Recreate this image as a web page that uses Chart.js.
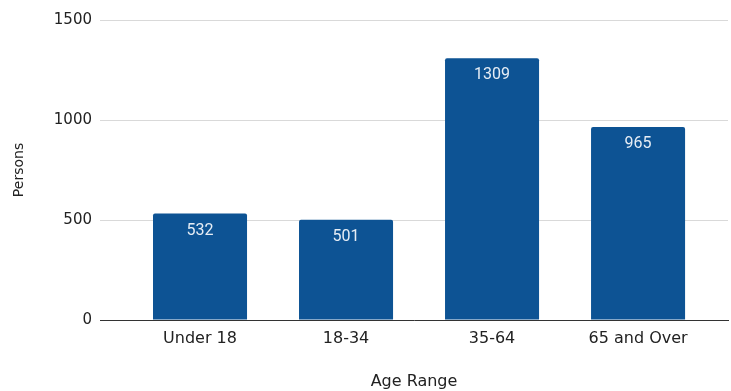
<!DOCTYPE html>
<html>
<head>
<meta charset="utf-8">
<script src="https://cdn.jsdelivr.net/npm/chart.js@4"></script>
<style>
  html, body { margin: 0; padding: 0; background: #fff; }
  #wrap { width: 731px; height: 391px; position: relative; }
</style>
</head>
<body>
<div id="wrap"><canvas id="ageChart"></canvas></div>
<script>
// --- data ---
const ageRanges = ['Under 18', '18-34', '35-64', '65 and Over'];
const persons = [532, 501, 1309, 965];
const yTicks = [0, 500, 1000, 1500];

const barColor = '#0d5394';

// value labels inside the top of each bar
const barLabels = {
  id: 'barLabels',
  afterDatasetsDraw(chart) {
    const ctx = chart.ctx;
    const meta = chart.getDatasetMeta(0);
    ctx.save();
    ctx.font = '16px Roboto';
    ctx.fillStyle = '#e6edf5';
    ctx.textAlign = 'center';
    ctx.textBaseline = 'middle';
    meta.data.forEach((bar, i) => {
      ctx.fillText(String(persons[i]), bar.x, bar.y + 17);
    });
    ctx.restore();
  }
};

new Chart(document.getElementById('ageChart'), {
  type: 'bar',
  data: {
    datasets: [{
      label: 'Persons',
      data: persons.map((v, i) => ({ x: i, y: v })),
      backgroundColor: barColor,
      borderRadius: 2,
      borderSkipped: 'bottom',
      barPercentage: 0.644,
      categoryPercentage: 1
    }]
  },
  options: {
    responsive: true,
    maintainAspectRatio: false,
    animation: false,
    layout: { padding: { top: 20, right: 3, left: 0, bottom: 0 } },
    plugins: { legend: { display: false }, tooltip: { enabled: false } },
    scales: {
      x: {
        type: 'linear',
        offset: false,
        min: -0.685,
        max: 3.616,
        afterBuildTicks(scale) {
          scale.ticks = ageRanges.map((c, i) => ({ value: i }));
        },
        afterFit(scale) { scale.height = 71; },
        ticks: {
          autoSkip: false,
          maxRotation: 0,
          color: '#222',
          font: { family: 'DejaVu Sans', size: 16 },
          padding: 9,
          callback: (v) => ageRanges[v]
        },
        grid: { display: false, drawTicks: false },
        border: { display: true, color: '#333', width: 1 },
        title: {
          display: true,
          text: 'Age Range',
          color: '#222',
          font: { family: 'DejaVu Sans', size: 16 },
          padding: { top: 0, bottom: 0 }
        }
      },
      y: {
        min: 0,
        max: 1500,
        afterBuildTicks(scale) {
          scale.ticks = yTicks.map(v => ({ value: v }));
        },
        afterFit(scale) { scale.width = 100; },
        ticks: {
          color: '#222',
          font: { family: 'DejaVu Sans', size: 15 },
          padding: 8,
          callback: (v) => String(v)
        },
        grid: { color: '#d9d9d9', drawTicks: false },
        border: { display: false },
        title: {
          display: true,
          text: 'Persons',
          color: '#222',
          font: { family: 'DejaVu Sans', size: 14 },
          padding: { top: 11, bottom: 0 }
        }
      }
    }
  },
  plugins: [barLabels]
});
</script>
</body>
</html>
